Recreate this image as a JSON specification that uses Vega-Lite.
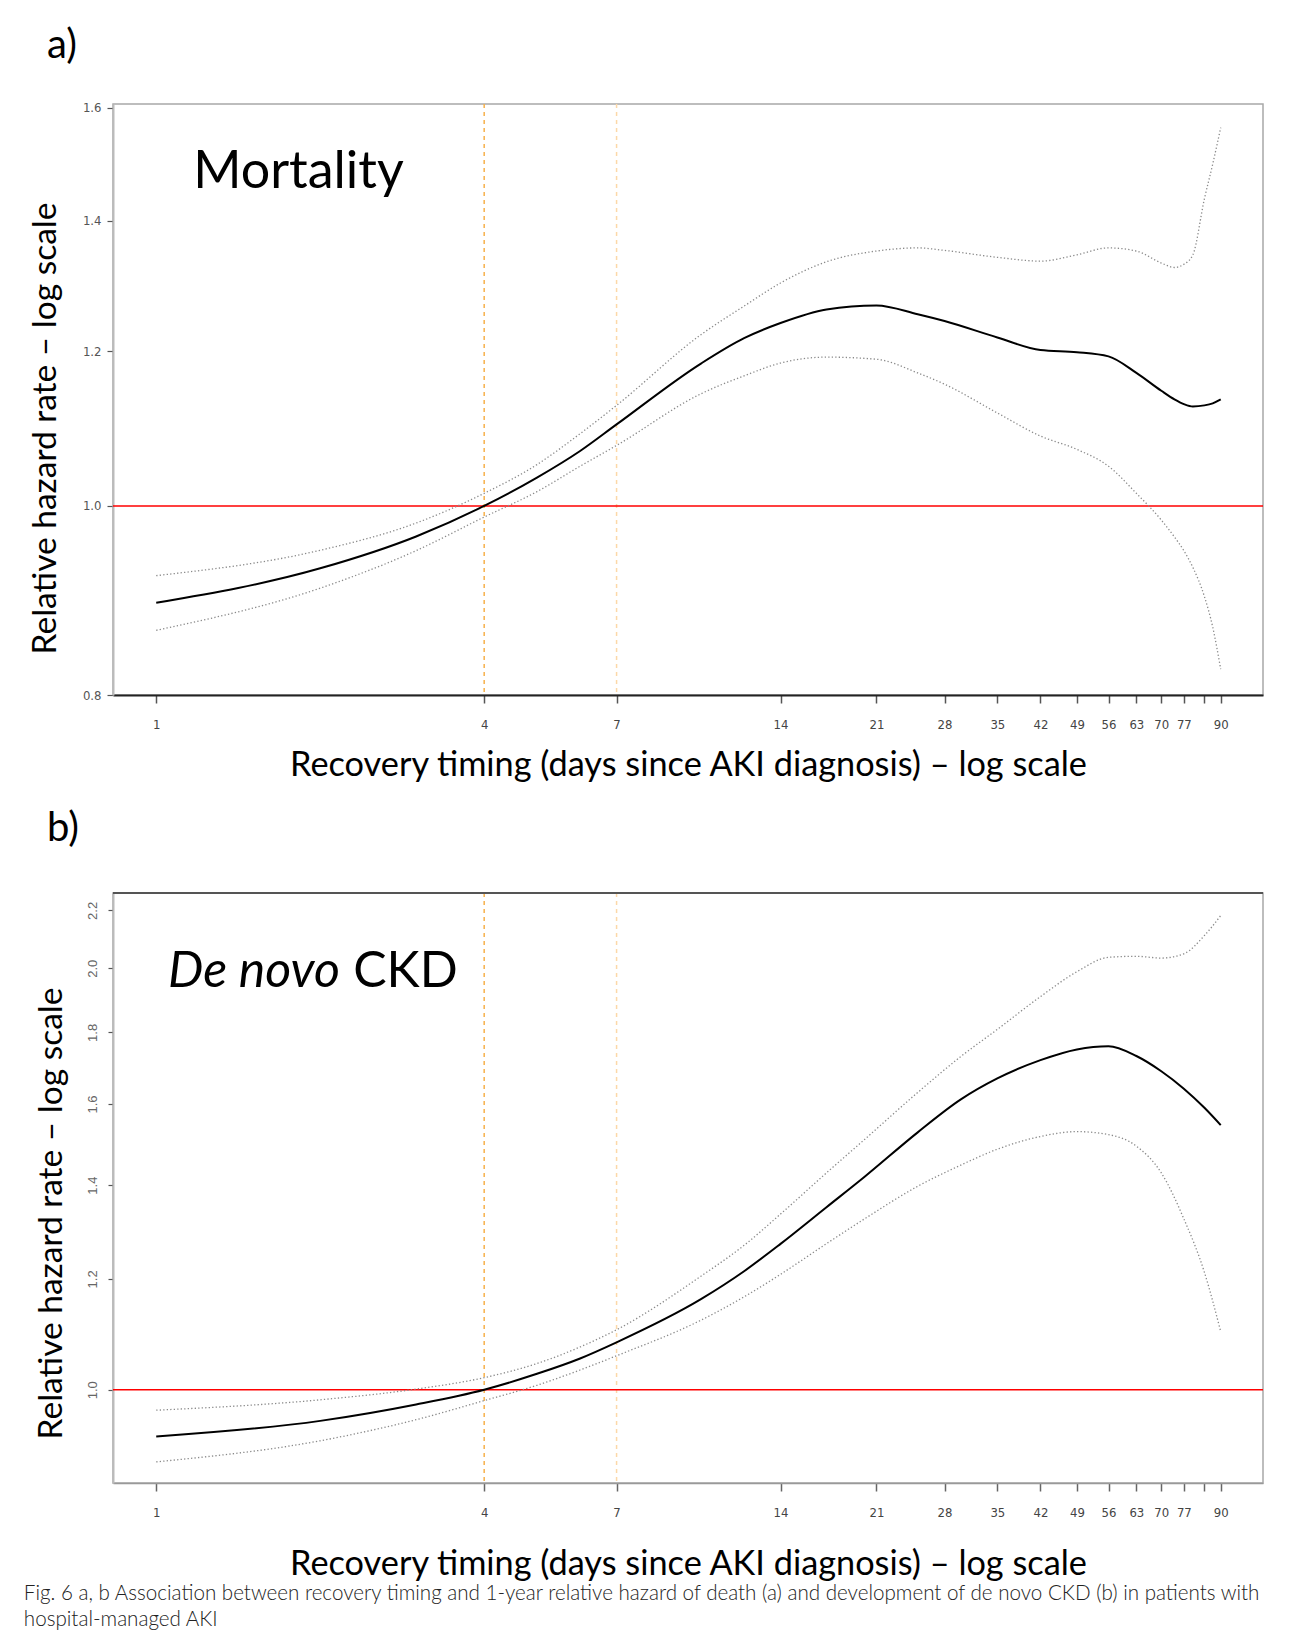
{
  "$schema": "https://vega.github.io/schema/vega-lite/v6.json",
  "background": "white",
  "padding": {"left": 23, "top": 24, "right": 10, "bottom": 6},
  "spacing": 24,
  "title": {
    "text": ["Fig. 6  a, b Association between recovery timing and 1-year relative hazard of death (a) and development of de novo CKD (b) in patients with", "hospital-managed AKI"],
    "orient": "bottom", "anchor": "start", "frame": "bounds",
    "font": "Lato", "fontSize": 20.6, "fontWeight": 300, "color": "#222",
    "lineHeight": 26, "offset": 1, "baseline": "top", "dx": -3.7
  },
  "config": {
    "view": {"stroke": "#a8a8a8", "strokeWidth": 1.5},
    "axis": {"grid": false}
  },
  "datasets": {
    "mort": [
      {"day": 1, "est": 0.892, "lo": 0.8635, "hi": 0.921},
      {"day": 2, "est": 0.929, "lo": 0.9075, "hi": 0.949},
      {"day": 3, "est": 0.9646, "lo": 0.9486, "hi": 0.98},
      {"day": 4, "est": 1.0, "lo": 0.987, "hi": 1.015},
      {"day": 5, "est": 1.034, "lo": 1.017, "hi": 1.05},
      {"day": 6, "est": 1.067, "lo": 1.048, "hi": 1.089},
      {"day": 7, "est": 1.101, "lo": 1.074, "hi": 1.126},
      {"day": 10, "est": 1.183, "lo": 1.1415, "hi": 1.224},
      {"day": 12, "est": 1.219, "lo": 1.166, "hi": 1.266},
      {"day": 14, "est": 1.241, "lo": 1.1837, "hi": 1.301},
      {"day": 17, "est": 1.261, "lo": 1.192, "hi": 1.334},
      {"day": 21, "est": 1.267, "lo": 1.189, "hi": 1.351},
      {"day": 25, "est": 1.254, "lo": 1.17, "hi": 1.356},
      {"day": 28, "est": 1.244, "lo": 1.1545, "hi": 1.352},
      {"day": 35, "est": 1.22, "lo": 1.116, "hi": 1.341},
      {"day": 42, "est": 1.202, "lo": 1.086, "hi": 1.335},
      {"day": 49, "est": 1.199, "lo": 1.069, "hi": 1.345},
      {"day": 56, "est": 1.193, "lo": 1.048, "hi": 1.356},
      {"day": 63, "est": 1.17, "lo": 1.015, "hi": 1.351},
      {"day": 70, "est": 1.1456, "lo": 0.9835, "hi": 1.332},
      {"day": 74, "est": 1.134, "lo": 0.964, "hi": 1.325},
      {"day": 77, "est": 1.1277, "lo": 0.9486, "hi": 1.33},
      {"day": 80, "est": 1.1245, "lo": 0.93, "hi": 1.345},
      {"day": 84, "est": 1.126, "lo": 0.8986, "hi": 1.437},
      {"day": 87, "est": 1.1287, "lo": 0.8667, "hi": 1.497},
      {"day": 90, "est": 1.1339, "lo": 0.8247, "hi": 1.563}
    ],
    "ckd": [
      {"day": 1, "est": 0.926, "lo": 0.888, "hi": 0.9668},
      {"day": 2, "est": 0.95, "lo": 0.9194, "hi": 0.9835},
      {"day": 3, "est": 0.976, "lo": 0.9518, "hi": 1.001},
      {"day": 4, "est": 1.0, "lo": 0.9822, "hi": 1.02},
      {"day": 5, "est": 1.0265, "lo": 1.0073, "hi": 1.044},
      {"day": 6, "est": 1.0527, "lo": 1.0329, "hi": 1.0728},
      {"day": 7, "est": 1.081, "lo": 1.0574, "hi": 1.1036},
      {"day": 10, "est": 1.1605, "lo": 1.1211, "hi": 1.2053},
      {"day": 12, "est": 1.215, "lo": 1.165, "hi": 1.268},
      {"day": 14, "est": 1.271, "lo": 1.209, "hi": 1.335},
      {"day": 17, "est": 1.35, "lo": 1.2715, "hi": 1.4286},
      {"day": 20, "est": 1.42, "lo": 1.325, "hi": 1.51},
      {"day": 25, "est": 1.527, "lo": 1.3974, "hi": 1.6306},
      {"day": 30, "est": 1.612, "lo": 1.447, "hi": 1.73},
      {"day": 35, "est": 1.6686, "lo": 1.4852, "hi": 1.8088},
      {"day": 42, "est": 1.7196, "lo": 1.5167, "hi": 1.9091},
      {"day": 49, "est": 1.7502, "lo": 1.5289, "hi": 1.9889},
      {"day": 56, "est": 1.7595, "lo": 1.5214, "hi": 2.0365},
      {"day": 63, "est": 1.7314, "lo": 1.4928, "hi": 2.04},
      {"day": 70, "est": 1.6886, "lo": 1.4286, "hi": 2.034},
      {"day": 77, "est": 1.6408, "lo": 1.3246, "hi": 2.0484},
      {"day": 84, "est": 1.59, "lo": 1.2129, "hi": 2.1108},
      {"day": 90, "est": 1.5453, "lo": 1.1001, "hi": 2.1815}
    ]
  },
  "vconcat": [
    {
      "width": 1150,
      "height": 591,
      "title": {"text": "a)", "anchor": "start", "frame": "group", "font": "Lato", "fontSize": 40, "fontWeight": "normal", "color": "#000", "baseline": "bottom", "offset": -4, "dx": -66},
      "layer": [
        {
          "data": {"values": [{"day": 4}]},
          "mark": {"type": "rule", "color": "#f7b04a", "strokeWidth": 1.5, "strokeDash": [4, 4]},
          "encoding": {
            "x": {"field": "day", "type": "quantitative", "scale": {"type": "log", "domain": [0.833, 107.6]},
              "axis": {"values": [1, 4, 7, 14, 21, 28, 35, 42, 49, 56, 63, 70, 77, 84, 90], "format": "d",
                "labelExpr": "datum.value == 84 ? '' : datum.label",
                "title": "Recovery timing (days since AKI diagnosis) – log scale",
                "titleFont": "Lato", "titleFontSize": 34.3, "titleFontWeight": "normal", "titleColor": "#000",
                "titleX": 575, "titleY": 70, "titleAlign": "center", "titleBaseline": "middle",
                "labelFont": "Liberation Sans Narrow, DejaVu Sans Condensed, Liberation Sans", "labelFontSize": 13, "labelColor": "#444", "labelPadding": 15,
                "tickSize": 8, "tickWidth": 1.5, "tickColor": "#555", "domainColor": "#222", "domainWidth": 1.8,
                "grid": false, "labelOverlap": false, "labelFlush": false, "labelBound": false}}
          }
        },
        {
          "data": {"values": [{"day": 7}]},
          "mark": {"type": "rule", "color": "#fcd8a8", "strokeWidth": 1.5, "strokeDash": [4, 4]},
          "encoding": {
            "x": {"field": "day", "type": "quantitative", "scale": {"type": "log", "domain": [0.833, 107.6]}}
          }
        },
        {
          "data": {"values": [{"value": 1}]},
          "mark": {"type": "rule", "color": "#ff0000", "strokeWidth": 1.6},
          "encoding": {
            "y": {"field": "value", "type": "quantitative", "scale": {"type": "log", "domain": [0.8, 1.607]},
              "axis": {"values": [0.8, 1, 1.2, 1.4, 1.6], "format": ".1f",
                "title": "Relative hazard rate – log scale",
                "titleFont": "Lato", "titleFontSize": 33.5, "titleFontWeight": "normal", "titleColor": "#000",
                "titleX": -67.7, "titleY": 324, "titleAngle": -90, "titleAlign": "center", "titleBaseline": "middle",
                "labelFont": "Liberation Sans Narrow, DejaVu Sans Condensed, Liberation Sans", "labelFontSize": 13, "labelColor": "#555", "labelPadding": 6,
                "tickSize": 6, "tickWidth": 1.2, "tickColor": "#555", "domainColor": "#bbb", "domainWidth": 2,
                "grid": false, "labelFlush": false}}
          }
        },
        {
          "data": {"name": "mort"},
          "transform": [{"fold": ["lo", "hi"], "as": ["series", "value"]}],
          "mark": {"type": "line", "color": "#8a8a8a", "strokeWidth": 1.3, "strokeDash": [1.3, 2.2], "interpolate": "monotone"},
          "encoding": {
            "x": {"field": "day", "type": "quantitative", "scale": {"type": "log", "domain": [0.833, 107.6]}},
            "y": {"field": "value", "type": "quantitative", "scale": {"type": "log", "domain": [0.8, 1.607]}},
            "detail": {"field": "series"}
          }
        },
        {
          "data": {"name": "mort"},
          "transform": [{"fold": ["est"], "as": ["series", "value"]}],
          "mark": {"type": "line", "color": "#000", "strokeWidth": 2, "interpolate": "monotone"},
          "encoding": {
            "x": {"field": "day", "type": "quantitative", "scale": {"type": "log", "domain": [0.833, 107.6]}},
            "y": {"field": "value", "type": "quantitative", "scale": {"type": "log", "domain": [0.8, 1.607]}}
          }
        },
        {
          "data": {"values": [{"day": 1.169, "value": 1.4555, "label": "Mortality"}]},
          "mark": {"type": "text", "font": "Lato", "fontSize": 52, "align": "left", "baseline": "alphabetic", "color": "#000"},
          "encoding": {
            "x": {"field": "day", "type": "quantitative", "scale": {"type": "log", "domain": [0.833, 107.6]}},
            "y": {"field": "value", "type": "quantitative", "scale": {"type": "log", "domain": [0.8, 1.607]}},
            "text": {"field": "label"}
          }
        }
      ]
    },
    {
      "width": 1150,
      "height": 590,
      "title": {"text": "b)", "anchor": "start", "frame": "group", "font": "Lato", "fontSize": 40, "fontWeight": "normal", "color": "#000", "baseline": "bottom", "offset": 3, "dx": -66},
      "layer": [
        {
          "data": {"values": [{"day": 4}]},
          "mark": {"type": "rule", "color": "#f7b04a", "strokeWidth": 1.5, "strokeDash": [4, 4]},
          "encoding": {
            "x": {"field": "day", "type": "quantitative", "scale": {"type": "log", "domain": [0.833, 107.6]},
              "axis": {"values": [1, 4, 7, 14, 21, 28, 35, 42, 49, 56, 63, 70, 77, 84, 90], "format": "d",
                "labelExpr": "datum.value == 84 ? '' : datum.label",
                "title": "Recovery timing (days since AKI diagnosis) – log scale",
                "titleFont": "Lato", "titleFontSize": 34.3, "titleFontWeight": "normal", "titleColor": "#000",
                "titleX": 575, "titleY": 81.5, "titleAlign": "center", "titleBaseline": "middle",
                "labelFont": "Liberation Sans Narrow, DejaVu Sans Condensed, Liberation Sans", "labelFontSize": 13, "labelColor": "#444", "labelPadding": 15,
                "tickSize": 8, "tickWidth": 1.5, "tickColor": "#666", "domainColor": "#999", "domainWidth": 1.6,
                "grid": false, "labelOverlap": false, "labelFlush": false, "labelBound": false}}
          }
        },
        {
          "data": {"values": [{"day": 7}]},
          "mark": {"type": "rule", "color": "#fcd8a8", "strokeWidth": 1.5, "strokeDash": [4, 4]},
          "encoding": {
            "x": {"field": "day", "type": "quantitative", "scale": {"type": "log", "domain": [0.833, 107.6]}}
          }
        },
        {
          "data": {"values": [{"value": 1}]},
          "mark": {"type": "rule", "color": "#ff0000", "strokeWidth": 1.6},
          "encoding": {
            "y": {"field": "value", "type": "quantitative", "scale": {"type": "log", "domain": [0.8577, 2.2638]},
              "axis": {"values": [1, 1.2, 1.4, 1.6, 1.8, 2, 2.2], "format": ".1f",
                "title": "Relative hazard rate – log scale",
                "titleFont": "Lato", "titleFontSize": 33.5, "titleFontWeight": "normal", "titleColor": "#000",
                "titleX": -61.7, "titleY": 320, "titleAngle": -90, "titleAlign": "center", "titleBaseline": "middle",
                "labelFont": "Liberation Sans, Arial", "labelFontSize": 13, "labelColor": "#666", "labelPadding": 9,
                "labelAngle": -90, "labelAlign": "center", "labelBaseline": "bottom",
                "tickSize": 5, "tickWidth": 1.2, "tickColor": "#555", "domainColor": "#bbb", "domainWidth": 2,
                "grid": false, "labelFlush": false}}
          }
        },
        {
          "data": {"values": [{"value": 2.2638}]},
          "mark": {"type": "rule", "color": "#555", "strokeWidth": 2},
          "encoding": {
            "y": {"field": "value", "type": "quantitative", "scale": {"type": "log", "domain": [0.8577, 2.2638]}}
          }
        },
        {
          "data": {"name": "ckd"},
          "transform": [{"fold": ["lo", "hi"], "as": ["series", "value"]}],
          "mark": {"type": "line", "color": "#8a8a8a", "strokeWidth": 1.3, "strokeDash": [1.3, 2.2], "interpolate": "monotone"},
          "encoding": {
            "x": {"field": "day", "type": "quantitative", "scale": {"type": "log", "domain": [0.833, 107.6]}},
            "y": {"field": "value", "type": "quantitative", "scale": {"type": "log", "domain": [0.8577, 2.2638]}},
            "detail": {"field": "series"}
          }
        },
        {
          "data": {"name": "ckd"},
          "transform": [{"fold": ["est"], "as": ["series", "value"]}],
          "mark": {"type": "line", "color": "#000", "strokeWidth": 2, "interpolate": "monotone"},
          "encoding": {
            "x": {"field": "day", "type": "quantitative", "scale": {"type": "log", "domain": [0.833, 107.6]}},
            "y": {"field": "value", "type": "quantitative", "scale": {"type": "log", "domain": [0.8577, 2.2638]}}
          }
        },
        {
          "data": {"values": [{"day": 1.051, "value": 1.9386, "label": "De novo"}]},
          "mark": {"type": "text", "font": "Lato", "fontSize": 50, "fontStyle": "italic", "align": "left", "baseline": "alphabetic", "color": "#000"},
          "encoding": {
            "x": {"field": "day", "type": "quantitative", "scale": {"type": "log", "domain": [0.833, 107.6]}},
            "y": {"field": "value", "type": "quantitative", "scale": {"type": "log", "domain": [0.8577, 2.2638]}},
            "text": {"field": "label"}
          }
        },
        {
          "data": {"values": [{"day": 2.299, "value": 1.9386, "label": "CKD"}]},
          "mark": {"type": "text", "font": "Lato", "fontSize": 50, "align": "left", "baseline": "alphabetic", "color": "#000"},
          "encoding": {
            "x": {"field": "day", "type": "quantitative", "scale": {"type": "log", "domain": [0.833, 107.6]}},
            "y": {"field": "value", "type": "quantitative", "scale": {"type": "log", "domain": [0.8577, 2.2638]}},
            "text": {"field": "label"}
          }
        }
      ]
    }
  ]
}
